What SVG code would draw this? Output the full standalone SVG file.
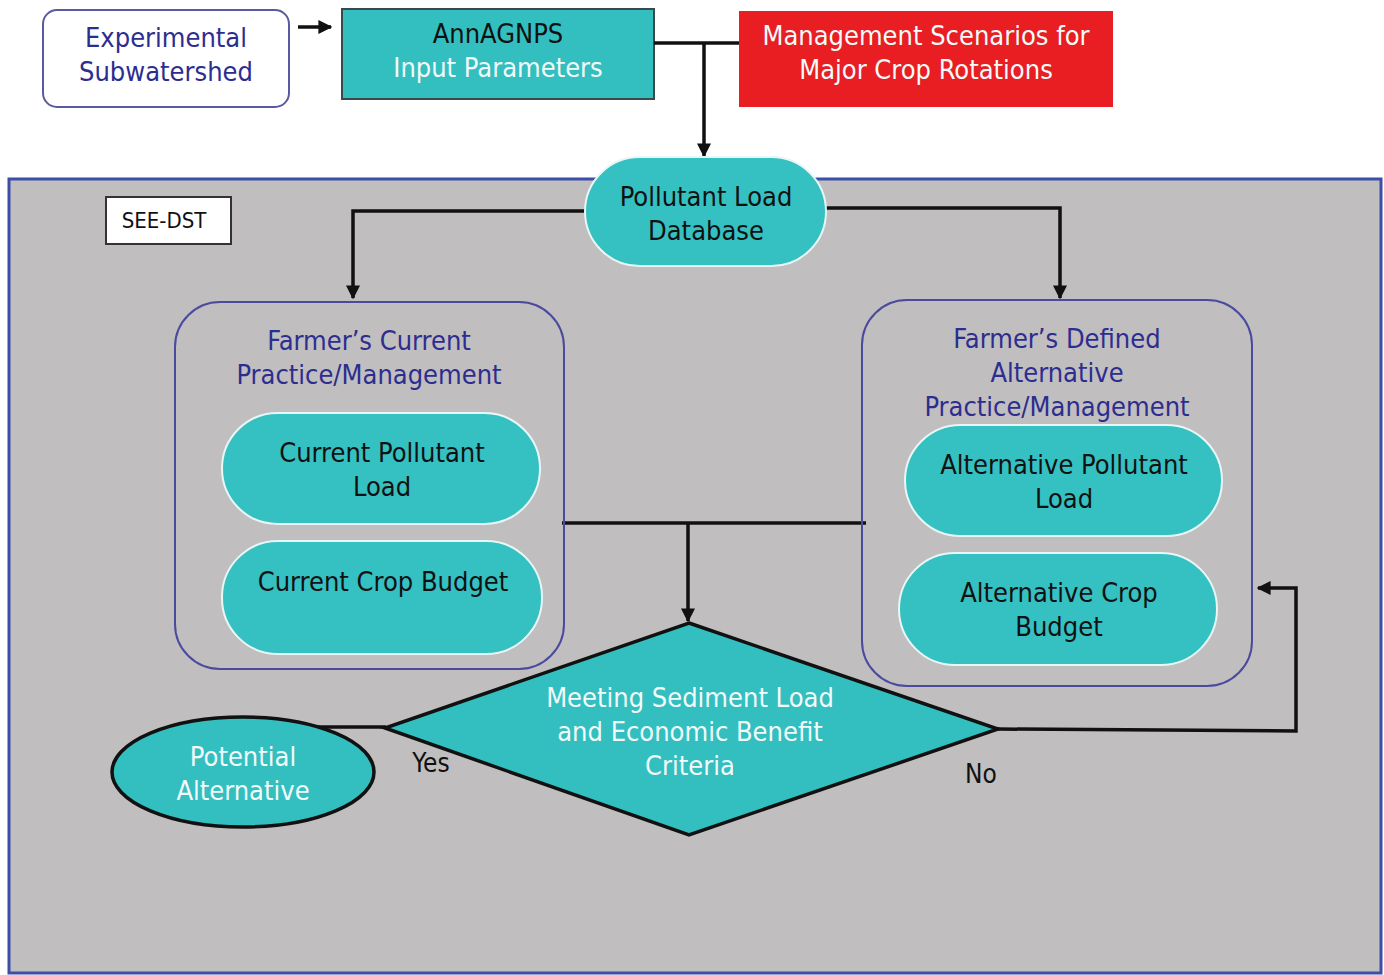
<svg xmlns="http://www.w3.org/2000/svg" width="1384" height="975" viewBox="0 0 1384 975">
<defs>
<marker id="ah" viewBox="0 0 10 10" refX="9" refY="5" markerWidth="4" markerHeight="4" orient="auto" markerUnits="strokeWidth">
<path d="M0,0 L10,5 L0,10 z" fill="#111"/>
</marker>
<style>
text{font-family:"DejaVu Sans Condensed","DejaVu Sans",sans-serif;font-size:27px;text-anchor:middle}
.teal{fill:#35c0c1;stroke:#e8f6f6;stroke-width:2}
.grp{fill:none;stroke:#4b4b9e;stroke-width:2}
.pur{fill:#2d2d8f}
.blk{fill:#111}
.wht{fill:#f2fafa}
.ln{fill:none;stroke:#111;stroke-width:3.5}
</style>
</defs>
<rect x="0" y="0" width="1384" height="975" fill="#fff"/>
<g id="see-dst-frame">
<rect x="9" y="179" width="1372" height="794" fill="#c0bebf" stroke="#3c4fa8" stroke-width="3"/>
</g>
<g id="experimental">
<rect x="43" y="10" width="246" height="97" rx="14" fill="#fff" stroke="#5a5aa0" stroke-width="2"/>
<text x="166" y="47" class="pur">Experimental</text>
<text x="166" y="81" class="pur">Subwatershed</text>
</g>
<g id="annagnps">
<rect x="342" y="9" width="312" height="90" fill="#33bfbf" stroke="#3a4a4a" stroke-width="2"/>
<text x="498" y="43" class="blk">AnnAGNPS</text>
<text x="498" y="77" class="wht">Input Parameters</text>
</g>
<g id="management">
<rect x="739" y="11" width="374" height="96" fill="#e81e22"/>
<text x="926" y="45" class="wht">Management Scenarios for</text>
<text x="926" y="79" class="wht">Major Crop Rotations</text>
</g>
<g id="see-dst-label">
<rect x="106" y="197" width="125" height="47" fill="#fff" stroke="#333" stroke-width="2"/>
<text x="164" y="228" class="blk" style="font-size:22px">SEE-DST</text>
</g>
<g id="connectors">
<line x1="298" y1="27" x2="331" y2="27" class="ln" marker-end="url(#ah)"/>
<polyline points="654,43 739,43" class="ln"/>
<line x1="704" y1="43" x2="704" y2="156" class="ln" marker-end="url(#ah)"/>
<polyline points="586,211 353,211 353,298" class="ln" marker-end="url(#ah)"/>
<polyline points="826,208 1060,208 1060,298" class="ln" marker-end="url(#ah)"/>
<line x1="562" y1="523" x2="866" y2="523" class="ln"/>
<line x1="688" y1="523" x2="688" y2="621" class="ln" marker-end="url(#ah)"/>
<line x1="318" y1="727" x2="386" y2="727" class="ln"/>
<polyline points="998,729 1296,731 1296,588 1258,588" class="ln" marker-end="url(#ah)"/>
</g>
<g id="pollutant-db">
<rect x="585" y="157" width="241" height="109" rx="54.5" class="teal"/>
<text x="706" y="206" class="blk">Pollutant Load</text>
<text x="706" y="240" class="blk">Database</text>
</g>
<g id="current-group">
<rect x="175" y="302" width="389" height="367" rx="45" class="grp"/>
<text x="369" y="350" class="pur">Farmer’s Current</text>
<text x="369" y="384" class="pur">Practice/Management</text>
</g>
<g id="current-pollutant">
<rect x="222" y="413" width="318" height="111" rx="55.5" class="teal"/>
<text x="382" y="462" class="blk">Current Pollutant</text>
<text x="382" y="496" class="blk">Load</text>
</g>
<g id="current-budget">
<rect x="222" y="541" width="320" height="113" rx="56" class="teal"/>
<text x="383" y="591" class="blk">Current Crop Budget</text>
</g>
<g id="alternative-group">
<rect x="862" y="300" width="390" height="386" rx="45" class="grp"/>
<text x="1057" y="348" class="pur">Farmer’s Defined</text>
<text x="1057" y="382" class="pur">Alternative</text>
<text x="1057" y="416" class="pur">Practice/Management</text>
</g>
<g id="alternative-pollutant">
<rect x="905" y="425" width="317" height="111" rx="55.5" class="teal"/>
<text x="1064" y="474" class="blk">Alternative Pollutant</text>
<text x="1064" y="508" class="blk">Load</text>
</g>
<g id="alternative-budget">
<rect x="899" y="553" width="318" height="112" rx="56" class="teal"/>
<text x="1059" y="602" class="blk">Alternative Crop</text>
<text x="1059" y="636" class="blk">Budget</text>
</g>
<g id="decision">
<polygon points="689,623 998,729 689,835 385,728" fill="#33bfbf" stroke="#111" stroke-width="3.5" stroke-linejoin="miter"/>
<text x="690" y="707" class="wht">Meeting Sediment Load</text>
<text x="690" y="741" class="wht">and Economic Benefit</text>
<text x="690" y="775" class="wht">Criteria</text>
<text x="431" y="772" class="blk" style="font-size:26px">Yes</text>
<text x="981" y="783" class="blk" style="font-size:26px">No</text>
</g>
<g id="potential">
<ellipse cx="243" cy="772" rx="131" ry="55" fill="#33bfbf" stroke="#111" stroke-width="3.5"/>
<text x="243" y="766" class="wht">Potential</text>
<text x="243" y="800" class="wht">Alternative</text>
</g>
</svg>
